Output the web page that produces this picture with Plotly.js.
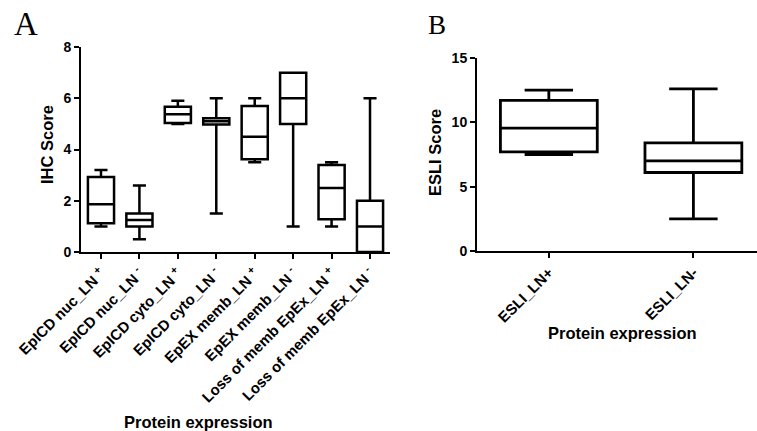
<!DOCTYPE html>
<html>
<head>
<meta charset="utf-8">
<script src="https://cdn.plot.ly/plotly-3.0.1.min.js"></script>
<style>html,body{margin:0;padding:0;background:#fff;}#chart{width:757px;height:431px;}</style>
</head>
<body>
<div id="chart"></div>
<script>
// Panel A data
const catsA = ["EpICD nuc_LN <sup>+</sup>", "EpICD nuc_LN <sup>-</sup>", "EpICD cyto_LN <sup>+</sup>", "EpICD cyto_LN <sup>-</sup>",
               "EpEX memb_LN <sup>+</sup>", "EpEX memb_LN <sup>-</sup>", "Loss of memb EpEx_LN <sup>+</sup>", "Loss of memb EpEx_LN <sup>-</sup>"];
const minA    = [1.0, 0.5, 5.0, 1.5, 3.5, 1.0, 1.0, 0.0];
const q1A     = [1.12, 1.0, 5.03, 4.98, 3.62, 5.0, 1.28, 0.0];
const medA    = [1.86, 1.25, 5.38, 5.1, 4.5, 6.0, 2.5, 1.0];
const q3A     = [2.93, 1.5, 5.67, 5.22, 5.7, 7.0, 3.4, 2.0];
const maxA    = [3.2, 2.6, 5.9, 6.0, 6.0, 7.0, 3.5, 6.0];
const yTicksA = [0, 2, 4, 6, 8];

// Panel B data
const catsB = ["ESLI_LN+", "ESLI_LN-"];
const minB  = [7.5, 2.5];
const q1B   = [7.7, 6.1];
const medB  = [9.55, 7.0];
const q3B   = [11.7, 8.4];
const maxB  = [12.5, 12.6];
const yTicksB = [0, 5, 10, 15];

const boxStyle = {
  type: 'box',
  fillcolor: '#ffffff',
  line: {color: '#000000', width: 2.5},
  whiskerwidth: 0.5,
  boxpoints: false,
  hoverinfo: 'skip',
  showlegend: false
};

const traceA = Object.assign({}, boxStyle, {
  x: catsA, q1: q1A, median: medA, q3: q3A, lowerfence: minA, upperfence: maxA,
  width: 0.68, xaxis: 'x', yaxis: 'y'
});
const traceB = Object.assign({}, boxStyle, {
  x: catsB, q1: q1B, median: medB, q3: q3B, lowerfence: minB, upperfence: maxB,
  width: 0.67, xaxis: 'x2', yaxis: 'y2', line: {color: '#000000', width: 2.8}
});

const FAM = 'Liberation Sans, Arial, sans-serif';
const tickFont = {family: FAM, size: 14, color: '#000', weight: 'bold'};
const catFont = {family: FAM, size: 15, color: '#000', weight: 'bold'};
const titleFont = {family: FAM, size: 16.5, color: '#000', weight: 'bold'};
const bold = s => '<b>' + s + '</b>';

const W = 757, H = 431;
function xd(a, b) { return [a / W, b / W]; }
function yd(top, bottom) { return [1 - bottom / H, 1 - top / H]; }

const axisCommon = {
  showline: true, linecolor: '#000', linewidth: 2, mirror: false,
  ticks: 'outside', ticklen: 5, tickwidth: 2, tickcolor: '#000',
  showgrid: false, zeroline: false, tickfont: tickFont, fixedrange: true
};

const layout = {
  width: W, height: H,
  margin: {l: 0, r: 0, t: 0, b: 0},
  paper_bgcolor: '#fff', plot_bgcolor: '#fff',
  xaxis: Object.assign({}, axisCommon, {
    domain: xd(81, 390), anchor: 'y', type: 'category', range: [-0.52, 7.52],
    tickangle: -45, tickfont: catFont, tickvals: catsA, ticktext: catsA.map(bold)
  }),
  yaxis: Object.assign({}, axisCommon, {
    domain: yd(47, 252), anchor: 'x', range: [0, 8], tickvals: yTicksA, ticktext: yTicksA.map(v => bold(String(v)))
  }),
  xaxis2: Object.assign({}, axisCommon, {
    domain: xd(477, 757), anchor: 'y2', type: 'category', range: [-0.497, 1.44],
    tickangle: -45, tickfont: catFont, tickvals: catsB, ticktext: catsB.map(bold)
  }),
  yaxis2: Object.assign({}, axisCommon, {
    domain: yd(58, 251), anchor: 'x2', range: [0, 15], tickvals: yTicksB, ticktext: yTicksB.map(v => bold(String(v)))
  }),
  annotations: [
    {text: 'A', x: 12 / W, y: 1 - 4 / H, xref: 'paper', yref: 'paper', xanchor: 'left', yanchor: 'top', showarrow: false,
     font: {family: 'Liberation Serif, Times New Roman, serif', size: 33, color: '#000'}},
    {text: 'B', x: 426 / W, y: 1 - 8 / H, xref: 'paper', yref: 'paper', xanchor: 'left', yanchor: 'top', showarrow: false,
     font: {family: 'Liberation Serif, Times New Roman, serif', size: 27, color: '#000'}},
    {text: bold('IHC Score'), x: 47 / W, y: 1 - 145 / H, xref: 'paper', yref: 'paper', xanchor: 'center', yanchor: 'middle',
     textangle: -90, showarrow: false, font: titleFont},
    {text: bold('ESLI Score'), x: 435 / W, y: 1 - 153 / H, xref: 'paper', yref: 'paper', xanchor: 'center', yanchor: 'middle',
     textangle: -90, showarrow: false, font: titleFont},
    {text: bold('Protein expression'), x: 198 / W, y: 1 - 422 / H, xref: 'paper', yref: 'paper', xanchor: 'center', yanchor: 'middle',
     showarrow: false, font: titleFont},
    {text: bold('Protein expression'), x: 622 / W, y: 1 - 333 / H, xref: 'paper', yref: 'paper', xanchor: 'center', yanchor: 'middle',
     showarrow: false, font: titleFont}
  ]
};

Plotly.newPlot('chart', [traceA, traceB], layout, {staticPlot: true, displayModeBar: false});
</script>
</body>
</html>
